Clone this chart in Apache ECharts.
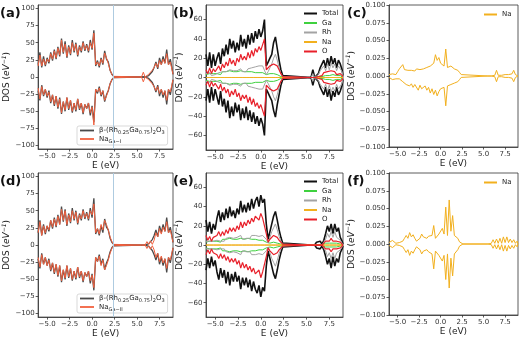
<!DOCTYPE html>
<html>
<head>
<meta charset="utf-8">
<script src="https://cdn.jsdelivr.net/npm/echarts@6/dist/echarts.min.js"></script>
<style>
  html, body { margin: 0; padding: 0; background: #fff; }
  #chart { width: 520px; height: 339px; }
</style>
</head>
<body>
<div id="chart"></div>
<script>
// Energy grid (eV) shared by every density-of-states curve
const energy = [
  -6.0,-5.8,-5.6,-5.4,-5.2,-5.0,-4.8,-4.6,-4.4,-4.2,
  -4.0,-3.8,-3.6,-3.4,-3.2,-3.0,-2.8,-2.6,-2.4,-2.2,
  -2.0,-1.8,-1.6,-1.4,-1.2,-1.0,-0.8,-0.6,-0.4,-0.2,
   0.0, 0.2, 0.4, 0.6, 0.8, 1.0, 1.2, 1.4, 1.6, 1.8,
   2.0, 2.2, 2.4, 2.6,
   5.5, 5.7, 5.9, 6.1, 6.3, 6.5, 6.7, 6.9, 7.1, 7.3,
   7.5, 7.7, 7.9, 8.1, 8.3, 8.5, 8.7, 8.9, 9.0
];

// Undoped host, total DOS (spin up / spin down)
const hostUp = [
  18,36,14,30,16,28,20,36,24,40,
  26,44,30,56,34,52,28,46,32,54,
  36,50,30,46,36,52,38,48,36,54,
  40,68,16,24,14,28,18,38,26,22,
  10,4,1,0,
  0,0,0,0,2,4,8,14,22,12,28,18,30,20,40,18,26,12,4
];
const hostDn = [
  -20,-34,-12,-28,-18,-30,-20,-38,-26,-42,
  -28,-46,-30,-54,-36,-50,-30,-48,-34,-52,
  -38,-50,-32,-48,-38,-54,-40,-46,-38,-56,
  -42,-66,-18,-24,-14,-28,-20,-36,-26,-20,
  -10,-4,-1,0,
  0,0,0,0,-2,-4,-8,-14,-22,-12,-28,-18,-30,-20,-40,-18,-26,-12,-4
];

// Na on Ga-I site, total DOS
const naIUp = [
  16,32,16,26,18,26,22,34,26,38,
  28,42,32,54,36,48,30,44,34,50,
  38,48,32,44,38,50,40,46,38,50,
  42,64,18,22,16,26,20,35,28,20,
  10,4,1,0,
  0,7,0,2,4,6,10,14,20,14,24,18,26,20,34,18,22,10,4
];
const naIDn = [
  -16,-32,-14,-26,-18,-28,-22,-36,-26,-40,
  -28,-44,-32,-52,-36,-48,-30,-46,-34,-50,
  -38,-48,-32,-46,-38,-52,-40,-46,-38,-52,
  -44,-70,-18,-22,-16,-26,-20,-34,-28,-20,
  -10,-4,-1,0,
  0,-7,0,-2,-4,-6,-10,-14,-20,-14,-24,-18,-26,-20,-34,-18,-22,-10,-4
];

// Na on Ga-II site, total DOS
const naIIUp = [
  18,34,14,28,18,28,22,36,26,38,
  28,42,30,52,36,50,30,44,34,50,
  38,48,32,44,38,50,40,46,38,50,
  44,60,18,24,16,30,22,36,30,22,
  12,5,1,0,
  0,0,0,5,1,6,1,7,18,12,24,16,26,20,34,18,22,10,4
];
const naIIDn = [
  -18,-32,-14,-28,-18,-30,-22,-36,-26,-40,
  -28,-44,-30,-52,-36,-48,-30,-46,-34,-50,
  -38,-48,-32,-46,-38,-52,-40,-46,-38,-52,
  -44,-62,-18,-24,-16,-30,-22,-36,-30,-22,
  -12,-5,-1,0,
  0,0,0,-5,-1,-6,-1,-7,-18,-12,-24,-16,-26,-20,-34,-18,-22,-10,-4
];

// Na(Ga-I): projected DOS
const bTotUp = [
  24,12,26,10,24,12,20,26,14,30,
  22,34,24,40,30,38,26,36,28,44,
  32,40,30,44,34,46,36,48,40,50,
  42,48,60,12,16,20,24,36,42,30,
  18,8,2,0,
  0,8,0,0,4,10,8,18,10,20,12,22,14,20,10,18,14,8,2
];
const bTotDn = [
  -24,-12,-26,-10,-24,-12,-20,-28,-14,-30,
  -22,-36,-24,-42,-30,-40,-26,-36,-28,-44,
  -32,-42,-30,-44,-34,-46,-36,-48,-40,-50,
  -42,-48,-60,-12,-16,-20,-24,-34,-41,-28,
  -18,-8,-2,0,
  0,-8,0,0,-4,-10,-8,-18,-10,-20,-12,-24,-14,-20,-10,-18,-14,-8,-2
];
const bGaUp = [
  3,2,4,2,4,3,4,5,3,6,
  4,6,4,7,5,6,4,6,5,7,
  5,6,4,6,5,6,4,5,4,5,
  4,5,6,3,4,4,3,4,4,3,
  2,1,0,0,
  0,1,0,0,1,2,1,3,2,4,2,4,3,4,2,3,2,1,0
];
const bGaDn = [
  -3,-2,-4,-2,-4,-3,-4,-5,-3,-6,
  -4,-6,-4,-7,-5,-6,-4,-6,-5,-7,
  -5,-6,-4,-6,-5,-6,-4,-5,-4,-5,
  -4,-5,-6,-3,-4,-4,-3,-4,-4,-3,
  -2,-1,0,0,
  0,-1,0,0,-1,-2,-1,-3,-2,-4,-2,-4,-3,-4,-2,-3,-2,-1,0
];
const bRhUp = [
  4,2,5,2,4,3,4,5,3,6,
  4,6,5,8,6,7,5,7,6,9,
  6,8,6,9,7,10,8,11,9,12,
  10,12,14,3,6,10,14,20,24,18,
  10,4,1,0,
  0,4,0,0,3,7,6,12,7,14,8,15,10,14,7,12,10,6,1
];
const bRhDn = [
  -4,-2,-5,-2,-4,-3,-4,-5,-3,-6,
  -4,-6,-5,-8,-6,-7,-5,-7,-6,-9,
  -6,-8,-6,-9,-7,-10,-8,-11,-9,-12,
  -10,-12,-14,-3,-6,-10,-14,-20,-24,-18,
  -10,-4,-1,0,
  0,-4,0,0,-3,-7,-6,-12,-7,-14,-8,-15,-10,-14,-7,-12,-10,-6,-1
];
const bOUp = [
  8,4,10,4,9,6,8,12,7,14,
  10,16,12,20,14,18,12,20,16,24,
  18,22,18,26,20,28,22,30,26,32,
  28,30,40,8,10,12,10,14,16,12,
  8,4,1,0,
  0,2,0,0,1,3,2,5,3,6,4,7,5,6,3,5,4,2,1
];
const bODn = [
  -8,-4,-10,-4,-9,-6,-8,-12,-7,-14,
  -10,-16,-12,-20,-14,-18,-12,-20,-16,-24,
  -18,-22,-18,-26,-20,-28,-22,-30,-26,-32,
  -28,-30,-40,-8,-10,-12,-10,-14,-16,-12,
  -8,-4,-1,0,
  0,-2,0,0,-1,-3,-2,-5,-3,-6,-4,-7,-5,-6,-3,-5,-4,-2,-1
];

// Na(Ga-I): Na partial DOS
const cNaUp = [
  0.002,0.004,0.003,0.005,0.002,0.006,0.010,0.012,0.016,0.009,
  0.011,0.008,0.010,0.008,0.009,0.007,0.010,0.012,0.009,0.011,
  0.010,0.009,0.012,0.010,0.014,0.012,0.018,0.030,0.022,0.026,
  0.018,0.016,0.014,0.038,0.012,0.010,0.014,0.016,0.010,0.012,
  0.008,0.005,0.002,0,
  0,0,0,0,0.001,0.008,0.001,0.001,0.001,0.001,0.002,0.001,0.002,0.002,0.003,0.008,0.002,0.001,0
];
const cNaDn = [
  -0.002,-0.003,-0.005,-0.007,-0.004,-0.003,-0.004,-0.006,-0.008,-0.010,
  -0.012,-0.010,-0.014,-0.011,-0.016,-0.012,-0.014,-0.020,-0.013,-0.018,
  -0.016,-0.014,-0.020,-0.016,-0.024,-0.018,-0.026,-0.020,-0.028,-0.022,
  -0.018,-0.020,-0.016,-0.042,-0.014,-0.016,-0.012,-0.014,-0.010,-0.010,
  -0.008,-0.005,-0.002,0,
  0,0,0,0,-0.001,-0.008,-0.001,-0.001,-0.001,-0.001,-0.002,-0.001,-0.002,-0.002,-0.003,-0.008,-0.002,-0.001,0
];

// Na(Ga-II): projected DOS
const eTotUp = [
  26,14,24,12,22,16,28,36,24,34,
  26,38,28,40,30,36,28,38,32,46,
  34,42,34,44,36,48,38,46,50,40,
  52,44,48,22,6,14,22,30,35,26,
  16,8,2,0,
  0,0,0,3,1,4,1,5,12,20,14,22,12,22,14,18,8,4,1
];
const eTotDn = [
  -26,-14,-24,-12,-22,-16,-28,-36,-24,-34,
  -26,-40,-28,-42,-30,-38,-28,-38,-32,-46,
  -34,-42,-34,-44,-36,-48,-38,-46,-50,-42,
  -54,-44,-48,-22,-6,-14,-22,-30,-35,-26,
  -16,-8,-2,0,
  0,0,0,-3,-1,-4,-1,-5,-12,-20,-14,-24,-12,-22,-14,-18,-8,-4,-1
];
const eGaUp = [
  3,2,4,2,4,3,4,5,3,6,
  4,6,4,7,5,6,4,6,5,7,
  5,6,5,7,5,6,5,6,6,5,
  6,5,6,3,1,2,2,3,3,2,
  2,1,0,0,
  0,0,0,0,0,1,0,1,2,3,2,3,2,3,2,2,1,1,0
];
const eGaDn = [
  -3,-2,-4,-2,-4,-3,-4,-5,-3,-6,
  -4,-6,-4,-7,-5,-6,-4,-6,-5,-7,
  -5,-6,-5,-7,-5,-6,-5,-6,-6,-5,
  -6,-5,-6,-3,-1,-2,-2,-3,-3,-2,
  -2,-1,0,0,
  0,0,0,0,0,-1,0,-1,-2,-3,-2,-3,-2,-3,-2,-2,-1,-1,0
];
const eRhUp = [
  4,2,4,2,4,3,5,6,4,6,
  4,7,5,8,6,7,5,8,6,10,
  6,8,7,9,7,10,8,10,11,9,
  11,10,12,6,2,8,14,18,22,16,
  9,4,1,0,
  0,0,0,1,0,2,0,2,6,12,8,14,8,14,8,10,5,2,0
];
const eRhDn = [
  -4,-2,-4,-2,-4,-3,-5,-6,-4,-6,
  -4,-7,-5,-8,-6,-7,-5,-8,-6,-10,
  -6,-8,-7,-9,-7,-10,-8,-10,-11,-9,
  -11,-10,-12,-6,-2,-8,-14,-18,-22,-16,
  -9,-4,-1,0,
  0,0,0,-1,0,-2,0,-2,-6,-12,-8,-14,-8,-14,-8,-10,-5,-2,0
];
const eOUp = [
  10,5,9,4,8,6,10,14,9,14,
  10,16,12,18,14,18,14,20,16,24,
  18,24,20,26,22,28,24,30,32,26,
  33,28,30,12,3,6,8,10,10,8,
  5,3,1,0,
  0,0,0,1,0,1,0,2,4,6,4,7,4,6,4,5,3,1,0
];
const eODn = [
  -10,-5,-9,-4,-8,-6,-10,-14,-9,-14,
  -10,-16,-12,-18,-14,-18,-14,-20,-16,-24,
  -18,-24,-20,-26,-22,-28,-24,-30,-32,-26,
  -34,-28,-30,-12,-3,-6,-8,-10,-10,-8,
  -5,-3,-1,0,
  0,0,0,-1,0,-1,0,-2,-4,-6,-4,-7,-4,-6,-4,-5,-3,-1,0
];

// Na(Ga-II): Na partial DOS
const fNaUp = [
  0.002,0.003,0.005,0.003,0.001,0.001,0.002,0.003,0.004,0.008,
  0.012,0.008,0.016,0.010,0.013,0.008,0.004,0.005,0.008,0.014,
  0.010,0.012,0.008,0.011,0.009,0.012,0.026,0.008,0.010,0.014,
  0.012,0.022,0.014,0.052,0.012,0.062,0.018,0.040,0.012,0.014,
  0.008,0.003,0.001,0,
  0,0,0.001,0.006,0.001,0.007,0.001,0.008,0.001,0.010,0.002,0.010,0.002,0.007,0.002,0.006,0.001,0.004,0
];
const fNaDn = [
  -0.002,-0.003,-0.005,-0.003,-0.001,-0.001,-0.002,-0.003,-0.004,-0.008,
  -0.012,-0.008,-0.016,-0.010,-0.013,-0.008,-0.004,-0.005,-0.008,-0.014,
  -0.010,-0.012,-0.008,-0.011,-0.009,-0.014,-0.035,-0.010,-0.012,-0.016,
  -0.014,-0.024,-0.016,-0.050,-0.014,-0.062,-0.020,-0.045,-0.014,-0.016,
  -0.008,-0.003,-0.001,0,
  0,0,-0.001,-0.006,-0.001,-0.007,-0.001,-0.008,-0.001,-0.010,-0.002,-0.010,-0.002,-0.007,-0.002,-0.006,-0.001,-0.004,0
];

// Tick labels
const energyTicks = [-5, -2.5, 0, 2.5, 5, 7.5];
const totalTicks = [-100, -75, -50, -25, 0, 25, 50, 75, 100];
const pdosTicks = [-60, -40, -20, 0, 20, 40, 60];
const naTicks = [-0.1, -0.075, -0.05, -0.025, 0, 0.025, 0.05, 0.075, 0.1];
const gapEdge = 2.4;

const FONT = 'DejaVu Sans';
const C = {
  host: '#4a4a4a', doped: '#f2613f',
  total: '#111111', ga: '#3fd13f', rh: '#a3a3a3', na: '#f2b01e', o: '#e8202a', vline: '#aecbe0'
};

const minus = s => String(s).replace('-', '\u2212');
const pts = arr => energy.map((e, i) => [e, arr[i]]);

const grids = [
  { left: 36,  top: 5,   width: 137, height: 144 },
  { left: 206, top: 5,   width: 137, height: 145 },
  { left: 389, top: 5,   width: 129, height: 142 },
  { left: 36,  top: 173, width: 137, height: 145 },
  { left: 206, top: 173, width: 137, height: 146 },
  { left: 389, top: 173, width: 129, height: 142 }
].map(g => Object.assign({ show: true, borderColor: '#333', borderWidth: 0.8 }, g));

const axisCommon = {
  type: 'value',
  splitLine: { show: false },
  axisLine: { show: true, onZero: false, lineStyle: { color: '#333', width: 0.8 } }
};

function xAxis(i) {
  return Object.assign({}, axisCommon, {
    gridIndex: i, min: -6, max: 9,
    axisTick: { show: true, length: 2.5, customValues: energyTicks, lineStyle: { color: '#333', width: 0.8 } },
    axisLabel: { customValues: energyTicks, fontSize: 7, color: '#333', margin: 4, fontFamily: FONT,
      formatter: v => minus(v.toFixed(1)) },
    name: 'E (eV)', nameLocation: 'middle', nameGap: 7,
    nameTextStyle: { fontSize: 9, color: '#222', fontFamily: FONT, verticalAlign: 'top' }
  });
}

const dosName = '{n|DOS (}{i|eV}{s|\u22121}{n|)}';
const dosRich = {
  n: { fontSize: 9, lineHeight: 12, fontFamily: FONT, color: '#222' },
  i: { fontSize: 9, lineHeight: 12, fontFamily: FONT, fontStyle: 'italic', color: '#222' },
  s: { fontSize: 6, lineHeight: 7, fontFamily: FONT, fontStyle: 'italic', verticalAlign: 'top', color: '#222' }
};

function yAxis(i, lim, ticks, digits, gap) {
  return Object.assign({}, axisCommon, {
    gridIndex: i, min: -lim, max: lim,
    axisTick: { show: true, length: 2.5, customValues: ticks, lineStyle: { color: '#333', width: 0.8 } },
    axisLabel: { customValues: ticks, fontSize: 7, color: '#333', margin: 3.5, fontFamily: FONT,
      formatter: v => minus(v.toFixed(digits)) },
    name: dosName, nameLocation: 'middle', nameGap: gap, nameRotate: 90,
    nameTextStyle: { rich: dosRich }
  });
}

function line(name, arr, grid, color, width, extra) {
  return Object.assign({
    name, type: 'line', xAxisIndex: grid, yAxisIndex: grid, data: pts(arr),
    symbol: 'none', color, lineStyle: { color, width }, animation: false, silent: true
  }, extra || {});
}

function vline() {
  return { silent: true, symbol: 'none', label: { show: false }, animation: false,
    lineStyle: { color: C.vline, width: 1, type: 'solid' }, data: [{ xAxis: gapEdge }] };
}

const series = [];
// (a) and (d): host vs Na-doped total DOS
[[0, naIUp, naIDn, 'naI'], [3, naIIUp, naIIDn, 'naII']].forEach(([g, up, dn, nm]) => {
  series.push(line('host', hostUp, g, C.host, 1.3, { markLine: vline() }));
  series.push(line('host', hostDn, g, C.host, 1.3));
  series.push(line(nm, up, g, C.doped, 1));
  series.push(line(nm, dn, g, C.doped, 1));
});
// (b) and (e): projected DOS
[[1, bTotUp, bTotDn, bGaUp, bGaDn, bRhUp, bRhDn, cNaUp, cNaDn, bOUp, bODn],
 [4, eTotUp, eTotDn, eGaUp, eGaDn, eRhUp, eRhDn, fNaUp, fNaDn, eOUp, eODn]].forEach(r => {
  const g = r[0];
  series.push(line('Total', r[1], g, C.total, 1.6), line('Total', r[2], g, C.total, 1.6));
  series.push(line('Ga', r[3], g, C.ga, 1), line('Ga', r[4], g, C.ga, 1));
  series.push(line('Rh', r[5], g, C.rh, 1), line('Rh', r[6], g, C.rh, 1));
  series.push(line('Na', r[7], g, C.na, 1), line('Na', r[8], g, C.na, 1));
  series.push(line('O', r[9], g, C.o, 1.2), line('O', r[10], g, C.o, 1.2));
});
// (c) and (f): Na partial DOS
series.push(line('Na', cNaUp, 2, C.na, 1), line('Na', cNaDn, 2, C.na, 1));
series.push(line('Na', fNaUp, 5, C.na, 1), line('Na', fNaDn, 5, C.na, 1));

const legendText = {
  host: '{n|\u03b2-(Rh}{s|0.25}{n|Ga}{s|0.75}{n|)}{s|2}{n|O}{s|3}',
  naI: '{n|Na}{s|Ga\u2212I}',
  naII: '{n|Na}{s|Ga\u2212II}'
};
const legRich = {
  n: { fontSize: 7, lineHeight: 10, fontFamily: FONT, color: '#222' },
  s: { fontSize: 5, lineHeight: 6, fontFamily: FONT, color: '#222', verticalAlign: 'bottom' }
};
function boxLegend(top, names) {
  return {
    data: names, left: 77, top, orient: 'vertical', icon: 'rect', itemWidth: 14, itemHeight: 1.8,
    itemGap: 0, padding: [1, 3, 1, 3], borderColor: '#cfcfcf', borderWidth: 0.8, borderRadius: 2,
    backgroundColor: '#fff', selectedMode: false,
    formatter: n => legendText[n], textStyle: { rich: legRich }
  };
}
function pdosLegend(top) {
  return {
    data: ['Total', 'Ga', 'Rh', 'Na', 'O'], left: 303, top, orient: 'vertical', icon: 'rect',
    itemWidth: 13, itemHeight: 2, itemGap: 0.5, padding: 1, selectedMode: false,
    textStyle: { fontSize: 7, lineHeight: 9, fontFamily: FONT, color: '#222' }
  };
}
function naLegend(top) {
  return {
    data: ['Na'], left: 483, top, orient: 'vertical', icon: 'rect', itemWidth: 13, itemHeight: 2,
    padding: 1, selectedMode: false, textStyle: { fontSize: 7, fontFamily: FONT, color: '#222' }
  };
}

const panelLabel = (t, x, y) => ({ type: 'text', left: x, top: y,
  style: { text: t, font: 'bold 13px "DejaVu Sans"', fill: '#111' } });

const option = {
  backgroundColor: '#fff',
  animation: false,
  grid: grids,
  xAxis: [0, 1, 2, 3, 4, 5].map(xAxis),
  yAxis: [
    yAxis(0, 105, totalTicks, 0, 18),
    yAxis(1, 75, pdosTicks, 0, 13),
    yAxis(2, 0.1, naTicks, 3, 28),
    yAxis(3, 105, totalTicks, 0, 18),
    yAxis(4, 75, pdosTicks, 0, 13),
    yAxis(5, 0.1, naTicks, 3, 28)
  ],
  legend: [
    boxLegend(126, ['host', 'naI']),
    pdosLegend(8),
    naLegend(10),
    boxLegend(294, ['host', 'naII']),
    pdosLegend(176),
    naLegend(178)
  ],
  graphic: [
    panelLabel('(a)', 0, 7), panelLabel('(b)', 173, 7), panelLabel('(c)', 347, 7),
    panelLabel('(d)', 0, 175), panelLabel('(e)', 173, 175), panelLabel('(f)', 347, 175)
  ],
  series
};

const chart = echarts.init(document.getElementById('chart'), null, { renderer: 'canvas' });
chart.setOption(option);
</script>
</body>
</html>
